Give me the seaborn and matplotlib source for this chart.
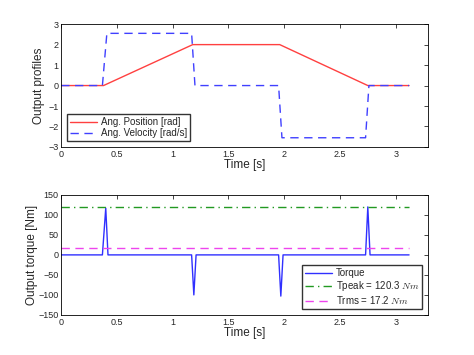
import matplotlib
matplotlib.use("Agg")
import matplotlib.pyplot as plt
import seaborn as sns
import pandas as pd

# angular profiles (key points)
t_pos = [0, 0.38, 1.18, 1.96, 2.75, 3.12]
pos = [0, 0, 2, 2, 0, 0]
t_vel = [0, 0.37, 0.41, 1.17, 1.20, 1.95, 1.98, 2.73, 2.76, 3.12]
vel = [0, 0, 2.55, 2.55, 0, 0, -2.55, -2.55, 0, 0]

# torque
t_trq = [0, 0.37, 0.40, 0.42, 1.17, 1.19, 1.21, 1.95, 1.97, 1.99, 2.73, 2.75, 2.77, 3.12]
trq = [0, 0, 117, 0, 0, -100, 0, 0, -103, 0, 0, 120, 0, 0]
t_peak = 120.3
t_rms = 17.2

sns.set_style("white")
plt.rcParams['font.family'] = ['Liberation Sans', 'DejaVu Sans']
plt.rcParams['mathtext.fontset'] = 'cm'

fig = plt.figure(figsize=(4.74, 3.55), dpi=100)
ax1 = fig.add_axes([0.129, 0.586, 0.774, 0.346])
ax2 = fig.add_axes([0.129, 0.113, 0.774, 0.338])

df_pos = pd.DataFrame({"t": t_pos, "y": pos})
df_vel = pd.DataFrame({"t": t_vel, "y": vel})
sns.lineplot(data=df_pos, x="t", y="y", ax=ax1, color="#ff4040", lw=1.0,
             label="Ang. Position [rad]")
sns.lineplot(data=df_vel, x="t", y="y", ax=ax1, color="#4040ff", lw=1.0,
             dashes=False, label="Ang. Velocity [rad/s]")
ax1.lines[-1].set_linestyle((0, (6, 4)))
ax1.set_xlim(0, 3.29)
ax1.set_ylim(-3, 3)
ax1.set_yticks(range(-3, 4))
ax1.set_xticks([0, 0.5, 1, 1.5, 2, 2.5, 3])
ax1.set_xticklabels(["0", "0.5", "1", "1.5", "2", "2.5", "3"])
ax1.set_xlabel("Time [s]", fontsize=8.5, labelpad=0)
ax1.set_ylabel("Output profiles", fontsize=8.5, labelpad=2)
ax1.legend(loc="lower left", fontsize=7, frameon=True, fancybox=False,
           edgecolor="black", handlelength=2.8, borderpad=0.3, labelspacing=0.1,
           borderaxespad=0.6, handletextpad=0.4)

df_trq = pd.DataFrame({"t": t_trq, "y": trq})
sns.lineplot(data=df_trq, x="t", y="y", ax=ax2, color="#3030ff", lw=1.0, label="Torque")
ax2.axhline(t_peak, xmax=3.12 / 3.29, color="#229922", lw=1.0, ls=(0, (6, 3, 1, 3)),
            label="Tpeak = %.1f $Nm$" % t_peak)
ax2.axhline(t_rms, xmax=3.12 / 3.29, color="#ee44ee", lw=1.0, ls=(0, (6, 4)),
            label="Trms = %.1f $Nm$" % t_rms)
ax2.set_xlim(0, 3.29)
ax2.set_ylim(-150, 150)
ax2.set_yticks(range(-150, 151, 50))
ax2.set_xticks([0, 0.5, 1, 1.5, 2, 2.5, 3])
ax2.set_xticklabels(["0", "0.5", "1", "1.5", "2", "2.5", "3"])
ax2.set_xlabel("Time [s]", fontsize=8.5, labelpad=0)
ax2.set_ylabel("Output torque [Nm]", fontsize=8.5, labelpad=0)
ax2.legend(loc="lower right", fontsize=7, frameon=True, fancybox=False,
           edgecolor="black", handlelength=2.8, borderpad=0.3, labelspacing=0.1,
           borderaxespad=0.6, handletextpad=0.4)

for ax in (ax1, ax2):
    ax.tick_params(direction="in", labelsize=6.5, length=3, width=0.6,
                   top=True, right=True, pad=2)
    for s in ax.spines.values():
        s.set_linewidth(0.6)
        s.set_color("black")

plt.savefig("out.png", dpi=100)
